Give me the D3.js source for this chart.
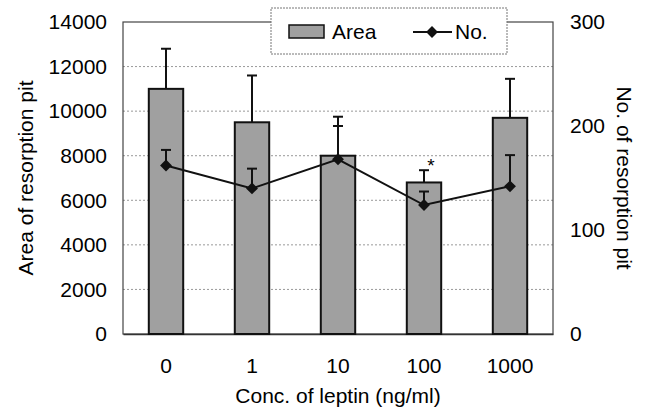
<!DOCTYPE html>
<html>
<head>
<meta charset="utf-8">
<script src="https://cdn.jsdelivr.net/npm/d3@7"></script>
<style>
body { margin: 0; background: #fff; }
text { font-family: "Liberation Sans", Arial, sans-serif; fill: #000; }
</style>
</head>
<body>
<svg id="chart" width="646" height="416"></svg>
<script>
// values
var conc = ["0", "1", "10", "100", "1000"];
var area = [11000, 9500, 8000, 6800, 9700];
var areaErr = [1800, 2100, 1750, 550, 1750];
var num = [162, 140, 168, 124, 142];
var numErr = [15, 19, 32, 13, 30];
var leftTicks = [0, 2000, 4000, 6000, 8000, 10000, 12000, 14000];
var rightTicks = [0, 100, 200, 300];

var svg = d3.select("#chart");
var m = {left: 123, right: 553, top: 22, bottom: 334};

var x = d3.scaleBand().domain(conc).range([m.left, m.right]).paddingInner(0.6).paddingOuter(0.3);
var yL = d3.scaleLinear().domain([0, 14000]).range([m.bottom, m.top]);
var yR = d3.scaleLinear().domain([0, 300]).range([m.bottom, m.top]);
var cx = d => x(d) + x.bandwidth() / 2;

// grid
svg.append("g").selectAll("line")
    .data(leftTicks.slice(1, -1))
    .enter().append("line")
    .attr("x1", m.left).attr("x2", m.right)
    .attr("y1", d => yL(d)).attr("y2", d => yL(d))
    .attr("stroke", "#999").attr("stroke-dasharray", "2,2");

// frame
svg.append("rect")
    .attr("x", m.left).attr("y", m.top)
    .attr("width", m.right - m.left).attr("height", m.bottom - m.top)
    .attr("fill", "none").attr("stroke", "#444").attr("stroke-width", 1.2);

// left axis
var axL = svg.append("g").attr("transform", "translate(" + m.left + ",0)")
    .call(d3.axisLeft(yL).tickValues(leftTicks).tickFormat(d3.format("d")).tickSize(0).tickPadding(16));
axL.select(".domain").remove();
axL.selectAll("text").style("font-size", "21px").attr("fill", "#000");

// right axis
var axR = svg.append("g").attr("transform", "translate(" + m.right + ",0)")
    .call(d3.axisRight(yR).tickValues(rightTicks).tickSize(0).tickPadding(17));
axR.select(".domain").remove();
axR.selectAll("text").style("font-size", "21px").attr("fill", "#000");

// bottom axis
var axB = svg.append("g").attr("transform", "translate(0," + m.bottom + ")")
    .call(d3.axisBottom(x).tickSize(0).tickPadding(24));
axB.select(".domain").attr("stroke", "#333").attr("stroke-width", 1.5);
axB.selectAll("text").style("font-size", "21px").attr("fill", "#000");

// bars + error
var bars = svg.append("g");
bars.selectAll("line.err")
    .data(conc).enter().append("line")
    .attr("x1", cx).attr("x2", cx)
    .attr("y1", (d, i) => yL(area[i])).attr("y2", (d, i) => yL(area[i] + areaErr[i]))
    .attr("stroke", "#111").attr("stroke-width", 2);
bars.selectAll("line.cap")
    .data(conc).enter().append("line")
    .attr("x1", d => cx(d) - 5).attr("x2", d => cx(d) + 5)
    .attr("y1", (d, i) => yL(area[i] + areaErr[i])).attr("y2", (d, i) => yL(area[i] + areaErr[i]))
    .attr("stroke", "#111").attr("stroke-width", 2);
bars.selectAll("rect")
    .data(conc).enter().append("rect")
    .attr("x", d => x(d)).attr("width", x.bandwidth())
    .attr("y", (d, i) => yL(area[i])).attr("height", (d, i) => yL(0) - yL(area[i]))
    .attr("fill", "#a0a0a0").attr("stroke", "#111").attr("stroke-width", 2);

// No. line + error
var lineG = svg.append("g");
lineG.selectAll("line.err")
    .data(conc).enter().append("line")
    .attr("x1", cx).attr("x2", cx)
    .attr("y1", (d, i) => yR(num[i])).attr("y2", (d, i) => yR(num[i] + numErr[i]))
    .attr("stroke", "#111").attr("stroke-width", 2);
lineG.selectAll("line.cap")
    .data(conc).enter().append("line")
    .attr("x1", d => cx(d) - 5).attr("x2", d => cx(d) + 5)
    .attr("y1", (d, i) => yR(num[i] + numErr[i])).attr("y2", (d, i) => yR(num[i] + numErr[i]))
    .attr("stroke", "#111").attr("stroke-width", 2);
var line = d3.line().x(d => cx(d.c)).y(d => yR(d.v));
lineG.append("path")
    .datum(conc.map((c, i) => ({c: c, v: num[i]})))
    .attr("d", line).attr("fill", "none").attr("stroke", "#111").attr("stroke-width", 2);
lineG.selectAll("path.mk")
    .data(conc).enter().append("path")
    .attr("d", d3.symbol(d3.symbolDiamond2, 90))
    .attr("transform", (d, i) => "translate(" + cx(d) + "," + yR(num[i]) + ")")
    .attr("fill", "#111");

// significance
svg.append("text")
    .attr("x", cx("100") + 7).attr("y", yL(area[3] + areaErr[3]) + 2)
    .attr("text-anchor", "middle").style("font-size", "19px").text("*");

// axis titles
svg.append("text").attr("x", m.left + (m.right - m.left) / 2).attr("y", 403)
    .attr("text-anchor", "middle").style("font-size", "21px").text("Conc. of leptin (ng/ml)");
svg.append("text").attr("transform", "translate(33,178) rotate(-90)")
    .attr("text-anchor", "middle").style("font-size", "21px").text("Area of resorption pit");
svg.append("text").attr("transform", "translate(617,178) rotate(90)")
    .attr("text-anchor", "middle").style("font-size", "21px").text("No. of resorption pit");

// legend
var lg = svg.append("g");
lg.append("rect").attr("x", 271).attr("y", 8).attr("width", 236).attr("height", 46)
    .attr("fill", "#fff").attr("stroke", "#777").attr("stroke-dasharray", "2,1");
lg.append("rect").attr("x", 289).attr("y", 25).attr("width", 35).attr("height", 13)
    .attr("fill", "#a0a0a0").attr("stroke", "#111").attr("stroke-width", 1.5);
lg.append("text").attr("x", 332).attr("y", 39).style("font-size", "21px").text("Area");
lg.append("line").attr("x1", 413).attr("x2", 452).attr("y1", 32).attr("y2", 32)
    .attr("stroke", "#111").attr("stroke-width", 2);
lg.append("path").attr("d", d3.symbol(d3.symbolDiamond2, 90))
    .attr("transform", "translate(432,32)").attr("fill", "#111");
lg.append("text").attr("x", 455).attr("y", 39).style("font-size", "21px").text("No.");
</script>
</body>
</html>
